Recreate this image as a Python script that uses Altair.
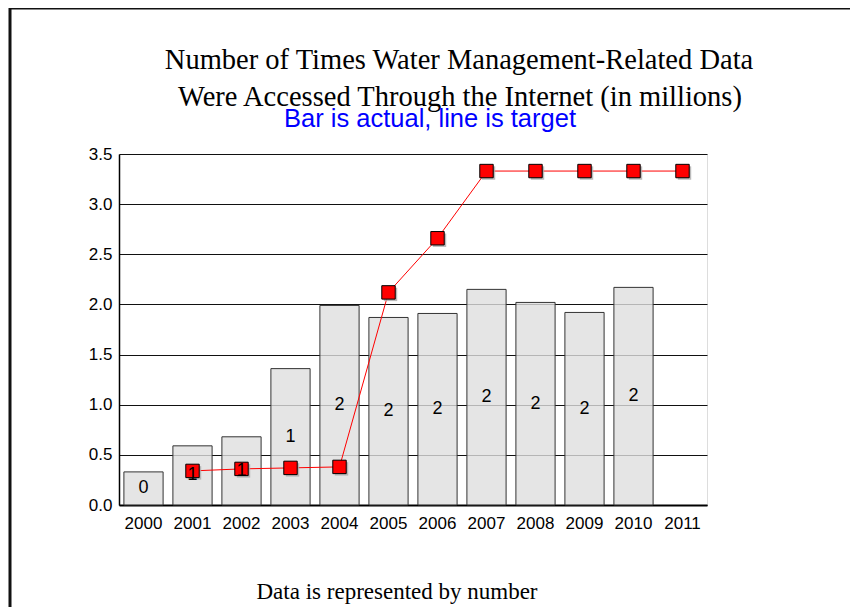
import altair as alt
import pandas as pd

years = ["2000", "2001", "2002", "2003", "2004", "2005", "2006", "2007", "2008", "2009", "2010", "2011"]
actual = [0.33, 0.59, 0.68, 1.36, 1.99, 1.87, 1.91, 2.15, 2.02, 1.92, 2.17, None]
bar_labels = ["0", "1", "1", "1", "2", "2", "2", "2", "2", "2", "2", ""]
target = [None, 0.34, 0.36, 0.37, 0.38, 2.12, 2.66, 3.33, 3.33, 3.33, 3.33, 3.33]

title_lines = ["Number of Times Water Management-Related Data",
               "Were Accessed Through the Internet (in millions)"]
subtitle = "Bar is actual, line is target"
footer = "Data is represented by number"

df = pd.DataFrame({"year": years, "actual": actual, "label": bar_labels, "target": target})

W, H = 588, 351

xenc = alt.X("year:O", sort=years,
             scale=alt.Scale(paddingInner=0.2, paddingOuter=0.1),
             axis=alt.Axis(title=None, labelAngle=0, ticks=False, labelPadding=10,
                           domainColor="#000000", domainWidth=2,
                           labelFont="Liberation Sans", labelFontSize=17, labelColor="#000000"))
yscale = alt.Scale(domain=[0, 3.5], nice=False)
yaxis = alt.Axis(title=None, values=[0, 0.5, 1, 1.5, 2, 2.5, 3, 3.5], format=".1f",
                 ticks=False, labelPadding=7, grid=True, gridColor="#111111", gridWidth=1,
                 domainColor="#000000", domainWidth=1.5,
                 labelFont="Liberation Sans", labelFontSize=17, labelColor="#000000")

base = alt.Chart(df)

bars = base.mark_bar(fill="#dedede", fillOpacity=0.8, stroke="#333333", strokeWidth=1).encode(
    x=xenc, y=alt.Y("actual:Q", scale=yscale, axis=yaxis))

labels = base.transform_filter("datum.actual != null").transform_calculate(
    mid="datum.actual / 2").mark_text(font="Liberation Sans", fontSize=18, color="#000000",
                                      baseline="middle").encode(
    x=alt.X("year:O", sort=years), y=alt.Y("mid:Q", scale=yscale), text="label:N")

line = base.transform_filter("datum.target != null").mark_line(color="#ff0000", strokeWidth=1).encode(
    x=alt.X("year:O", sort=years), y=alt.Y("target:Q", scale=yscale))

shadow = base.transform_filter("datum.target != null").mark_point(
    shape="square", filled=True, size=180, color="#aaaaaa", opacity=0.8, xOffset=2, yOffset=2).encode(
    x=alt.X("year:O", sort=years), y=alt.Y("target:Q", scale=yscale))

points = base.transform_filter("datum.target != null").mark_point(
    shape="square", filled=True, size=180, fill="#ff0000", stroke="#000000", strokeWidth=1,
    opacity=1).encode(
    x=alt.X("year:O", sort=years), y=alt.Y("target:Q", scale=yscale))

one = pd.DataFrame({"k": [0]})

t1 = alt.Chart(one).mark_text(font="Liberation Serif", fontSize=28.5, color="#000000",
                              align="center", baseline="alphabetic").encode(
    x=alt.value(340), y=alt.value(-85), text=alt.value(title_lines[0]))
t2 = alt.Chart(one).mark_text(font="Liberation Serif", fontSize=28.5, color="#000000",
                              align="center", baseline="alphabetic").encode(
    x=alt.value(341), y=alt.value(-48), text=alt.value(title_lines[1]))
t3 = alt.Chart(one).mark_text(font="Liberation Sans", fontSize=25.5, color="#0000ff",
                              align="center", baseline="alphabetic").encode(
    x=alt.value(311), y=alt.value(-27), text=alt.value(subtitle))
t4 = alt.Chart(one).mark_text(font="Liberation Serif", fontSize=23, color="#000000",
                              align="center", baseline="alphabetic").encode(
    x=alt.value(278), y=alt.value(445), text=alt.value(footer))

frame_left = alt.Chart(one).mark_rule(color="#111111", strokeWidth=3).encode(
    x=alt.value(-109), y=alt.value(-146), y2=alt.value(470))
frame_top = alt.Chart(one).mark_rule(color="#111111", strokeWidth=3).encode(
    x=alt.value(-109), x2=alt.value(760), y=alt.value(-146))

chart = alt.layer(bars, line, shadow, points, labels, t1, t2, t3, t4, frame_left, frame_top).properties(
    width=W, height=H,
    autosize=alt.AutoSizeParams(type="none"),
    padding={"left": 111, "top": 146, "right": 143, "bottom": 102},
).configure_view(stroke="#555555", strokeWidth=1).configure(background="#ffffff")

chart.save("out.html", embed_options={"renderer": "svg", "actions": False})
